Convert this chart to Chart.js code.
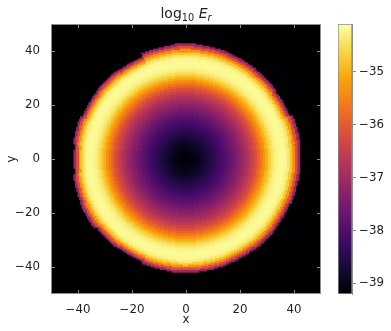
<!DOCTYPE html>
<html>
<head>
<meta charset="utf-8">
<script src="https://cdn.jsdelivr.net/npm/chart.js@4.4.1/dist/chart.umd.min.js"></script>
<style>
  html, body { margin: 0; padding: 0; background: #fff; }
  #wrap { position: relative; width: 391px; height: 331px; overflow: hidden; }
  #heat { position: absolute; left: 0; top: 0; }
  #cbar { position: absolute; left: 330px; top: 0; }
  #title {
    position: absolute; left: 0; width: 372px; top: 6px;
    text-align: center; font: 14px "DejaVu Sans"; line-height: 14px; color: #222;
  }
  #title sub { font-size: 70%; vertical-align: baseline; position: relative; top: 0.35em; }
</style>
</head>
<body>
<div id="wrap">
  <canvas id="heat" width="330" height="331"></canvas>
  <canvas id="cbar" width="61" height="331"></canvas>
  <div id="title">log<sub>10</sub> <i>E<sub>r</sub></i></div>
</div>
<script>
// ticks
const xTicks = [-40, -20, 0, 20, 40];
const yTicks = [-40, -20, 0, 20, 40];
const cbTicks = [-39, -38, -37, -36, -35];
const cbMin = -39.2;
const cbMax = -34.1;

// radial profile of log10 E_r (radius in x/y units, edge of disc at ~42)
const radius = [0, 1, 2, 3, 4, 5, 6, 7, 8, 9, 10, 11, 12, 13, 14, 15, 16, 17, 18, 19, 20,
                21, 22, 23, 24, 25, 26, 27, 28, 29, 30, 31, 32, 33, 34, 35, 36, 37, 38, 39, 40, 41, 42];
const logEr = [-39.15, -39.14, -39.11, -39.07, -39.01, -38.94, -38.86, -38.76, -38.66, -38.56, -38.46,
               -38.36, -38.25, -38.15, -38.04, -37.92, -37.80, -37.67, -37.54, -37.40, -37.25,
               -37.10, -36.94, -36.77, -36.58, -36.38, -36.15, -35.90, -35.62, -35.32, -35.02,
               -34.72, -34.47, -34.30, -34.21, -34.17, -34.17, -34.22, -34.38, -34.75, -35.35,
               -36.15, -37.10];

// bumpy outer edge of the disc: radius by angle (degrees from +x)
const edgeAngle = [0, 15, 30, 45, 60, 75, 90, 105, 120, 135, 150, 165,
                   180, 195, 210, 225, 240, 255, 270, 285, 300, 315, 330, 345];
const edgeRadius = [42.1, 42.4, 41.4, 41.8, 42.0, 42.2, 42.4, 42.0, 40.8, 41.2, 41.0, 41.6,
                    41.0, 41.6, 41.9, 41.2, 40.8, 41.4, 41.6, 41.6, 41.5, 41.8, 41.6, 42.0];

// inferno colour map
const inferno = [[0, 0, 4], [22, 11, 57], [66, 10, 104], [106, 23, 110], [147, 38, 103],
                 [188, 55, 84], [221, 81, 58], [243, 120, 25], [252, 165, 10], [246, 215, 70],
                 [252, 255, 164]];

function cmap(v) {
    let t = (v - cbMin) / (cbMax - cbMin);
    t = Math.max(0, Math.min(1, t)) * (inferno.length - 1);
    const i = Math.min(Math.floor(t), inferno.length - 2);
    const f = t - i;
    const a = inferno[i], b = inferno[i + 1];
    const c = a.map((ch, k) => Math.round(ch + (b[k] - ch) * f));
    return "rgb(" + c[0] + "," + c[1] + "," + c[2] + ")";
}

function edgeAt(deg) {
    const k = Math.round(((deg + 360) % 360) / 15) % edgeAngle.length;
    return edgeRadius[k];
}

// cells of half a unit; only the outer fringe follows the bumpy edge
const cells = [];
const cellColors = [];
for (let i = 0; i < 200; i++) {
    for (let j = 0; j < 200; j++) {
        const cx = -49.75 + i * 0.5;
        const cy = -49.75 + j * 0.5;
        let r = Math.hypot(cx, cy);
        if (r > 36) {
            const edge = edgeAt(Math.atan2(cy, cx) * 180 / Math.PI);
            r = 36 + (r - 36) * 6 / (edge - 36);
        }
        const k = radius.indexOf(Math.round(r));
        const v = k >= 0 ? logEr[k] : cbMin;
        cells.push({ x: cx, y: cy, v: v });
        cellColors.push(cmap(v));
    }
}

const font = { family: "DejaVu Sans", size: 11.8 };
const txt = "#222";
const axisGray = "#8c8c8c";

const frameTicks = {
    id: "frameTicks",
    afterDraw(chart) {
        const { ctx, chartArea: a, scales: { x, y } } = chart;
        ctx.save();
        ctx.strokeStyle = axisGray;
        ctx.lineWidth = 1;
        ctx.beginPath();
        xTicks.forEach(v => {
            const px = Math.round(x.getPixelForValue(v)) + 0.5;
            ctx.moveTo(px, a.bottom); ctx.lineTo(px, a.bottom - 4);
            ctx.moveTo(px, a.top); ctx.lineTo(px, a.top + 4);
        });
        yTicks.forEach(v => {
            const py = Math.round(y.getPixelForValue(v)) + 0.5;
            ctx.moveTo(a.left, py); ctx.lineTo(a.left + 4, py);
            ctx.moveTo(a.right, py); ctx.lineTo(a.right - 4, py);
        });
        ctx.stroke();
        ctx.strokeRect(a.left + 0.5, a.top + 0.5, a.right - a.left - 1, a.bottom - a.top - 1);
        ctx.restore();
    }
};

function minus(v) {
    return String(v).replace("-", "\u2212");
}

new Chart(document.getElementById("heat"), {
    type: "scatter",
    data: {
        datasets: [{
            data: cells,
            pointStyle: "rect",
            pointRadius: 1.5,
            pointBorderWidth: 0,
            pointBackgroundColor: cellColors,
            clip: 0,
        }],
    },
    options: {
        responsive: false,
        animation: false,
        events: [],
        layout: { padding: { top: 24, right: 9, bottom: 0, left: 0 } },
        plugins: { legend: { display: false }, tooltip: { enabled: false } },
        scales: {
            x: {
                type: "linear", min: -50, max: 50,
                afterBuildTicks: s => { s.ticks = xTicks.map(v => ({ value: v })); },
                afterFit: s => { s.height = 37; },
                grid: { display: false },
                border: { display: false },
                ticks: { font: font, color: txt, padding: 1, maxRotation: 0, callback: minus },
                title: { display: true, text: "x", font: font, color: txt, padding: { top: 0, bottom: 4 } },
            },
            y: {
                type: "linear", min: -50, max: 50,
                afterBuildTicks: s => { s.ticks = yTicks.map(v => ({ value: v })); },
                afterFit: s => { s.width = 51; },
                grid: { display: false },
                border: { display: false },
                ticks: { font: font, color: txt, padding: 3, callback: minus },
                title: { display: true, text: "y", font: font, color: txt, padding: { top: 5, bottom: 0 } },
            },
        },
    },
    plugins: [frameTicks],
});

// colour bar
new Chart(document.getElementById("cbar"), {
    type: "bar",
    data: {
        labels: [""],
        datasets: [{
            data: [[cbMin, cbMax]],
            barPercentage: 1,
            categoryPercentage: 1,
            borderWidth: 1,
            borderColor: axisGray,
            borderSkipped: false,
            backgroundColor: (c) => {
                const { chart } = c;
                if (!chart.chartArea) return "#000";
                const ys = chart.scales.y;
                const g = chart.ctx.createLinearGradient(0, ys.getPixelForValue(cbMin), 0, ys.getPixelForValue(cbMax));
                inferno.forEach((rgb, i) => {
                    g.addColorStop(i / (inferno.length - 1), "rgb(" + rgb.join(",") + ")");
                });
                return g;
            },
        }],
    },
    options: {
        responsive: false,
        animation: false,
        events: [],
        layout: { padding: { top: 24, right: 0, bottom: 37, left: 8 } },
        plugins: { legend: { display: false }, tooltip: { enabled: false } },
        scales: {
            x: { display: false },
            y: {
                position: "right",
                min: cbMin, max: cbMax,
                afterBuildTicks: s => { s.ticks = cbTicks.map(v => ({ value: v })); },
                afterFit: s => { s.width = 39; },
                grid: { drawOnChartArea: false, drawTicks: true, tickLength: 4, color: axisGray },
                border: { display: true, color: axisGray },
                ticks: { font: font, color: txt, padding: 3, callback: minus },
            },
        },
    },
});
</script>
</body>
</html>
